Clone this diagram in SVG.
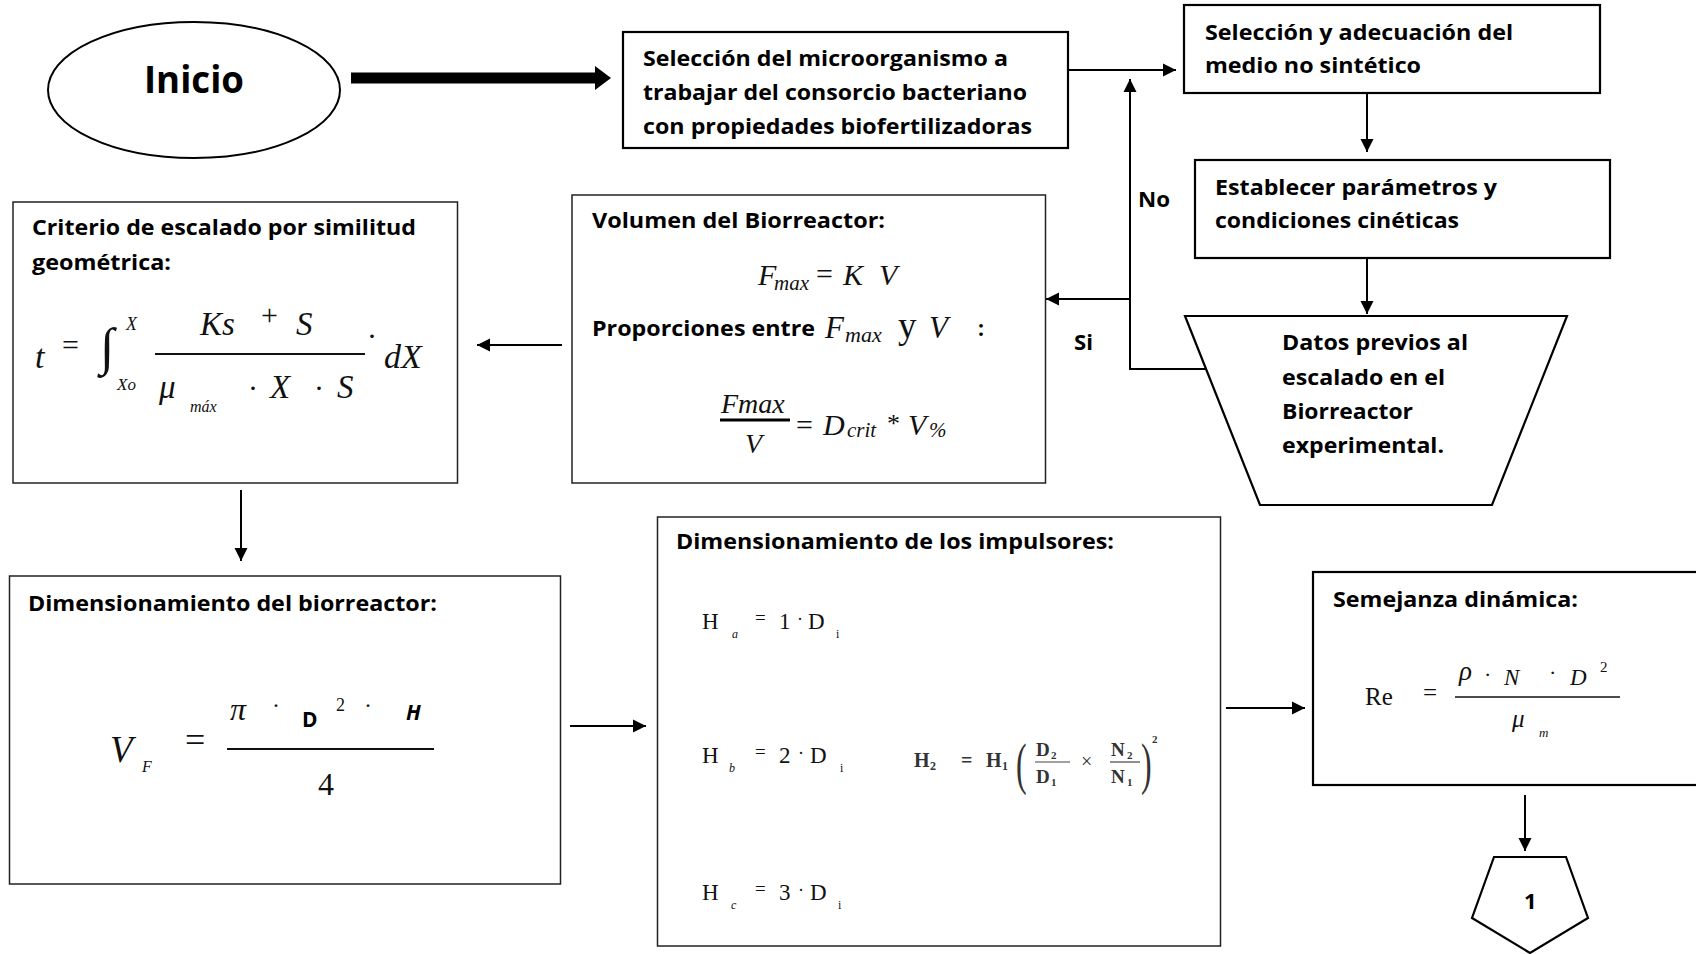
<svg xmlns="http://www.w3.org/2000/svg" width="1696" height="954" viewBox="0 0 1696 954">
<defs>
<style>
.box{fill:#fff;stroke:#000;stroke-width:2.2}
.fbox{fill:#fff;stroke:#222;stroke-width:1.5}
.t{font-family:"Open Sans","Noto Sans","Liberation Sans",sans-serif;font-weight:bold;font-size:21px;fill:#000}
.m{font-family:"Liberation Serif","Times New Roman",serif;font-style:italic;fill:#111}
.r{font-family:"Liberation Serif","Times New Roman",serif;fill:#111}
.con{fill:none;stroke:#000;stroke-width:2}
</style>
<marker id="ah" markerUnits="userSpaceOnUse" markerWidth="14" markerHeight="14" viewBox="0 0 14 14" refX="13" refY="7" orient="auto">
<path d="M0,0.5 L13,7 L0,13.5 z" fill="#000"/>
</marker>
<marker id="bh" markerUnits="userSpaceOnUse" markerWidth="16" markerHeight="26" viewBox="0 0 16 26" refX="3" refY="13" orient="auto">
<path d="M0,1 L16,13 L0,25 z" fill="#000"/>
</marker>
</defs>
<rect width="1696" height="954" fill="#fff"/>

<g id="connectors">
<path class="con" d="M351,78 H598" style="stroke-width:11" marker-end="url(#bh)"/>
<path class="con" d="M1068,70 H1176" marker-end="url(#ah)"/>
<path class="con" d="M1367,93 V152" marker-end="url(#ah)"/>
<path class="con" d="M1367,258 V314" marker-end="url(#ah)"/>
<path class="con" d="M1206,369 H1130 V79" marker-end="url(#ah)"/>
<path class="con" d="M1130,299 H1046" marker-end="url(#ah)"/>
<path class="con" d="M562,345 H477" marker-end="url(#ah)"/>
<path class="con" d="M241,490 V561" marker-end="url(#ah)"/>
<path class="con" d="M570,726 H646" marker-end="url(#ah)"/>
<path class="con" d="M1226,708 H1305" marker-end="url(#ah)"/>
<path class="con" d="M1525,795 V851" marker-end="url(#ah)"/>
<text class="t" x="1138" y="207" style="font-size:22px" textLength="32" lengthAdjust="spacingAndGlyphs">No</text>
<text class="t" x="1074" y="350" style="font-size:22px" textLength="19" lengthAdjust="spacingAndGlyphs">Si</text>
</g>

<g id="inicio">
<ellipse cx="194" cy="90" rx="146" ry="68" fill="#fff" stroke="#000" stroke-width="2"/>
<text class="t" x="144" y="93" style="font-size:38px" textLength="100" lengthAdjust="spacingAndGlyphs">Inicio</text>
</g>

<g id="seleccion-microorganismo">
<rect class="box" x="623" y="32" width="445" height="116"/>
<text class="t" x="643" y="66" textLength="365" lengthAdjust="spacingAndGlyphs">Selección del microorganismo a</text>
<text class="t" x="643" y="100" textLength="384" lengthAdjust="spacingAndGlyphs">trabajar del consorcio bacteriano</text>
<text class="t" x="643" y="134" textLength="389" lengthAdjust="spacingAndGlyphs">con propiedades biofertilizadoras</text>
</g>

<g id="seleccion-medio">
<rect class="box" x="1184" y="5" width="416" height="88"/>
<text class="t" x="1205" y="40" textLength="308" lengthAdjust="spacingAndGlyphs">Selección y adecuación del</text>
<text class="t" x="1205" y="73" textLength="216" lengthAdjust="spacingAndGlyphs">medio no sintético</text>
</g>

<g id="parametros">
<rect class="box" x="1195" y="160" width="415" height="98"/>
<text class="t" x="1215" y="195" textLength="282" lengthAdjust="spacingAndGlyphs">Establecer parámetros y</text>
<text class="t" x="1215" y="228" textLength="244" lengthAdjust="spacingAndGlyphs">condiciones cinéticas</text>
</g>

<g id="datos-previos">
<polygon points="1185,316 1567,316 1492,505 1260,505" fill="#fff" stroke="#000" stroke-width="2.2"/>
<text class="t" x="1282" y="350" textLength="186" lengthAdjust="spacingAndGlyphs">Datos previos al</text>
<text class="t" x="1282" y="385" textLength="163" lengthAdjust="spacingAndGlyphs">escalado en el</text>
<text class="t" x="1282" y="419" textLength="131" lengthAdjust="spacingAndGlyphs">Biorreactor</text>
<text class="t" x="1282" y="453" textLength="162" lengthAdjust="spacingAndGlyphs">experimental.</text>
</g>

<g id="volumen">
<rect class="fbox" x="572" y="195" width="473.5" height="288"/>
<text class="t" x="592" y="228" textLength="293" lengthAdjust="spacingAndGlyphs">Volumen del Biorreactor:</text>
<text class="m" x="758" y="285" font-size="30">F</text>
<text class="m" x="774" y="290" font-size="21">max</text>
<text class="r" x="816" y="284" font-size="30">=</text>
<text class="m" x="843" y="285" font-size="30">K</text>
<text class="m" x="879" y="285" font-size="30">V</text>
<text class="t" x="592" y="336" textLength="223" lengthAdjust="spacingAndGlyphs">Proporciones entre</text>
<text class="m" x="825" y="338" font-size="31">F</text>
<text class="m" x="845" y="342" font-size="22">max</text>
<text class="r" x="898" y="338" font-size="37">y</text>
<text class="m" x="929" y="338" font-size="31">V</text>
<text class="t" x="978" y="336">:</text>
<text class="m" x="721" y="413" font-size="28">Fmax</text>
<line x1="720" y1="420" x2="790" y2="420" stroke="#000" stroke-width="3"/>
<text class="m" x="745" y="453" font-size="28">V</text>
<text class="r" x="796" y="435" font-size="30">=</text>
<text class="m" x="823" y="435" font-size="30">D</text>
<text class="m" x="847" y="437" font-size="21">crit</text>
<text class="r" x="887" y="432" font-size="26">*</text>
<text class="m" x="908" y="435" font-size="30">V</text>
<text class="m" x="929" y="437" font-size="21">%</text>
</g>

<g id="criterio">
<rect class="fbox" x="13" y="202" width="444.5" height="281"/>
<text class="t" x="32" y="235" textLength="384" lengthAdjust="spacingAndGlyphs">Criterio de escalado por similitud</text>
<text class="t" x="32" y="270" textLength="139" lengthAdjust="spacingAndGlyphs">geométrica:</text>
<text class="m" x="35" y="368" font-size="34">t</text>
<text class="r" x="62" y="355" font-size="30">=</text>
<text class="r" x="100" y="364" font-size="52">∫</text>
<text class="m" x="126" y="330" font-size="18">X</text>
<text class="m" x="117" y="390" font-size="17">Xo</text>
<line x1="155" y1="354" x2="365" y2="354" stroke="#111" stroke-width="2"/>
<text class="m" x="200" y="335" font-size="33">Ks</text>
<text class="r" x="261" y="325" font-size="30">+</text>
<text class="m" x="296" y="335" font-size="33">S</text>
<text class="m" x="159" y="398" font-size="33">μ</text>
<text class="m" x="190" y="412" font-size="16">máx</text>
<text class="r" x="248" y="398" font-size="30">·</text>
<text class="m" x="270" y="398" font-size="33">X</text>
<text class="r" x="314" y="398" font-size="30">·</text>
<text class="m" x="337" y="398" font-size="33">S</text>
<text class="r" x="367" y="346" font-size="30">·</text>
<text class="m" x="384" y="368" font-size="34">dX</text>
</g>

<g id="dim-biorreactor">
<rect class="fbox" x="9.5" y="576" width="551" height="308"/>
<text class="t" x="28" y="611" textLength="409" lengthAdjust="spacingAndGlyphs">Dimensionamiento del biorreactor:</text>
<text class="m" x="110" y="762" font-size="37" fill="#333">V</text>
<text class="m" x="142" y="772" font-size="16" fill="#333">F</text>
<text class="r" x="185" y="752" font-size="36" fill="#333">=</text>
<line x1="227" y1="749" x2="434" y2="749" stroke="#111" stroke-width="2"/>
<text class="m" x="230" y="720" font-size="32">π</text>
<text class="r" x="272" y="713" font-size="24">·</text>
<text class="t" x="302" y="727" style="font-size:21px">D</text>
<text class="r" x="336" y="711" font-size="18">2</text>
<text class="r" x="364" y="713" font-size="24">·</text>
<text class="t" x="406" y="720" style="font-size:21px;font-style:italic">H</text>
<text class="r" x="318" y="795" font-size="32">4</text>
</g>

<g id="dim-impulsores">
<rect class="fbox" x="657.5" y="517" width="563" height="429"/>
<text class="t" x="676" y="549" textLength="438" lengthAdjust="spacingAndGlyphs">Dimensionamiento de los impulsores:</text>
<text class="r" x="702" y="629" font-size="23">H</text>
<text class="m" x="732" y="638" font-size="12">a</text>
<text class="r" x="755" y="624" font-size="19">=</text>
<text class="r" x="779" y="629" font-size="23">1</text>
<text class="r" x="797" y="625" font-size="18">·</text>
<text class="r" x="808" y="629" font-size="23">D</text>
<text class="r" x="836" y="638" font-size="12">i</text>
<text class="r" x="702" y="763" font-size="23">H</text>
<text class="m" x="729" y="772" font-size="12">b</text>
<text class="r" x="755" y="758" font-size="19">=</text>
<text class="r" x="779" y="763" font-size="23">2</text>
<text class="r" x="798" y="759" font-size="18">·</text>
<text class="r" x="810" y="763" font-size="23">D</text>
<text class="r" x="840" y="772" font-size="12">i</text>
<text class="r" x="702" y="900" font-size="23">H</text>
<text class="m" x="731" y="909" font-size="12">c</text>
<text class="r" x="755" y="895" font-size="19">=</text>
<text class="r" x="779" y="900" font-size="23">3</text>
<text class="r" x="798" y="896" font-size="18">·</text>
<text class="r" x="810" y="900" font-size="23">D</text>
<text class="r" x="838" y="909" font-size="12">i</text>
<g fill="#333" font-family="'Liberation Serif','Times New Roman',serif" font-weight="bold">
<text x="914" y="767" font-size="20">H</text>
<text x="930" y="770" font-size="12">2</text>
<text x="961" y="767" font-size="20">=</text>
<text x="986" y="767" font-size="20">H</text>
<text x="1002" y="770" font-size="12">1</text>
<text x="1016" y="783" font-size="58" font-weight="normal" transform="translate(1016 783) scale(0.55 1) translate(-1016 -783)">(</text>
<text x="1036" y="756" font-size="19">D</text>
<text x="1051" y="759" font-size="11">2</text>
<line x1="1035" y1="762" x2="1070" y2="762" stroke="#444" stroke-width="1.2"/>
<text x="1036" y="783" font-size="19">D</text>
<text x="1051" y="786" font-size="11">1</text>
<text x="1081" y="768" font-size="20" font-weight="normal">×</text>
<text x="1111" y="756" font-size="19">N</text>
<text x="1127" y="759" font-size="11">2</text>
<line x1="1110" y1="762" x2="1140" y2="762" stroke="#444" stroke-width="1.2"/>
<text x="1111" y="783" font-size="19">N</text>
<text x="1127" y="786" font-size="11">1</text>
<text x="1141" y="783" font-size="58" font-weight="normal" transform="translate(1141 783) scale(0.55 1) translate(-1141 -783)">)</text>
<text x="1152" y="743" font-size="11">2</text>
</g>
</g>

<g id="semejanza">
<rect class="box" x="1313" y="572" width="400" height="213"/>
<text class="t" x="1333" y="607" textLength="245" lengthAdjust="spacingAndGlyphs">Semejanza dinámica:</text>
<text class="r" x="1365" y="705" font-size="25">Re</text>
<text class="r" x="1423" y="701" font-size="25">=</text>
<line x1="1455" y1="697" x2="1620" y2="697" stroke="#111" stroke-width="1.5"/>
<text class="m" x="1459" y="680" font-size="27">ρ</text>
<text class="r" x="1484" y="682" font-size="22">·</text>
<text class="m" x="1504" y="685" font-size="23">N</text>
<text class="r" x="1549" y="680" font-size="22">·</text>
<text class="m" x="1570" y="685" font-size="23">D</text>
<text class="r" x="1600" y="672" font-size="15">2</text>
<text class="m" x="1512" y="727" font-size="25">μ</text>
<text class="m" x="1539" y="737" font-size="13">m</text>
</g>

<g id="conector-1">
<polygon points="1494,857 1566,857 1588,918 1530,953 1472,918" fill="#fff" stroke="#000" stroke-width="2.2"/>
<text class="t" x="1524" y="909" style="font-size:22px">1</text>
</g>
</svg>
